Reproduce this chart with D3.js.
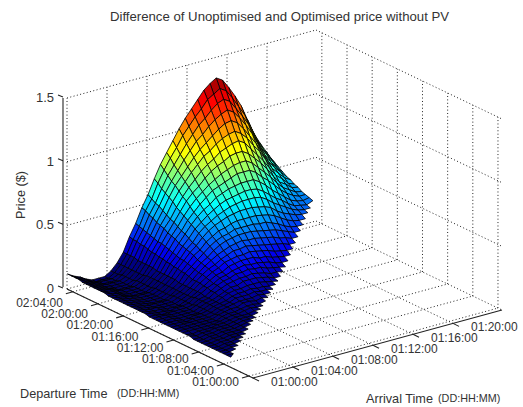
<!DOCTYPE html>
<html>

<head>
    <meta charset="utf-8">
    <title>Difference of Unoptimised and Optimised price without PV</title>
    <script src="https://cdn.jsdelivr.net/npm/d3@7"></script>
    <style>
        body { margin: 0; background: #fff; }
        text { font-family: "Liberation Sans", Arial, sans-serif; fill: #333; }
    </style>
</head>

<body>
    <svg id="chart"></svg>
</body>

<script>
    // hours after 01:00:00 for each axis tick
    let arrivalTicks = [0, 4, 8, 12, 16, 20];
    let arrivalLabels = ["01:00:00", "01:04:00", "01:08:00", "01:12:00", "01:16:00", "01:20:00"];
    let departureTicks = [0, 4, 8, 12, 16, 20, 24, 28];
    let departureLabels = ["01:00:00", "01:04:00", "01:08:00", "01:12:00", "01:16:00", "01:20:00", "02:00:00", "02:04:00"];
    let priceTicks = [0, 50, 100, 150];
    let priceLabels = ["0", "0.5", "1", "1.5"];

    // mesh positions, hours after 01:00:00
    let arrivalHours = [0, 0.62, 1.24, 1.86, 2.48, 3.1, 3.72, 4.34, 4.96, 5.58, 6.2, 6.82, 7.44, 8.06, 8.68, 9.3, 9.92,
        10.54, 11.16, 11.78, 12.4, 13.02, 13.64, 14.26, 14.88, 15.5, 16.12, 16.74, 17.36, 17.98, 18.6, 19.22, 19.84, 20.46];
    let departureHours = [2.9, 3.49, 4.08, 4.67, 5.26, 5.85, 6.44, 7.03, 7.62, 8.21, 8.8, 9.39, 9.98, 10.57, 11.16,
        11.75, 12.34, 12.93, 13.52, 14.11, 14.7, 15.29, 15.88, 16.47, 17.06, 17.65, 18.24, 18.83, 19.42, 20.01, 20.6,
        21.19, 21.78, 22.37, 22.96, 23.55, 24.14, 24.73, 25.32, 25.91, 26.5, 27.09, 27.68, 28.27, 28.86];

    // price difference in cents, one row per arrival time.
    // row i starts at departure i: nobody departs before arriving
    let priceCents = [
        [8,8,8,8,8,8,8,8,8,8,8,9,9,9,9,9,9,9,9,9,9,9,9,10,10,10,10,10,10,10,10,10,10,10,11,11,11,11,11,11,11,12,12,12,12],
        [8,8,8,8,8,8,8,8,8,8,8,8,9,9,9,9,9,9,9,9,9,9,9,9,9,9,9,9,9,9,9,9,9,9,9,9,9,9,9,9,9,9,9,9],
        [9,9,9,9,9,9,9,9,9,9,9,9,9,9,9,9,9,9,9,9,8,8,8,8,8,8,8,8,8,8,8,8,8,8,8,7,7,7,7,7,7,7,7],
        [9,9,9,9,9,9,9,9,9,9,9,9,9,9,8,8,8,8,8,8,8,8,8,7,7,7,7,7,7,7,6,6,6,6,6,5,5,5,5,4,4,4],
        [10,10,10,10,10,10,10,10,9,9,9,9,9,9,8,8,8,8,8,7,7,7,7,7,6,6,6,6,6,5,5,5,5,4,4,4,4,3,3,2,2],
        [10,10,10,10,10,10,10,10,9,9,9,9,9,9,8,8,8,8,8,7,7,7,7,6,6,6,6,6,5,5,5,5,4,4,4,4,3,3,2,2],
        [10,10,10,10,10,10,10,10,9,9,9,9,9,8,8,8,8,8,7,7,7,7,6,6,6,6,6,5,5,5,5,4,4,4,4,3,3,2,2],
        [11,11,11,11,11,11,11,11,11,10,10,10,10,10,10,9,9,9,9,9,9,8,8,8,8,8,7,7,7,7,7,6,6,6,6,5,5,5],
        [12,12,12,12,12,12,12,12,12,12,12,12,12,12,12,12,11,11,11,11,11,11,11,11,11,11,11,11,11,10,10,10,10,10,10,10,10],
        [12,12,12,12,12,12,13,13,13,13,13,13,13,13,14,14,14,14,14,14,14,15,15,15,15,15,15,16,16,16,16,16,17,17,17,17],
        [12,12,12,13,13,13,14,14,14,15,15,16,16,17,17,18,18,18,19,20,20,21,21,22,22,23,23,24,24,25,26,26,27,27,28],
        [13,13,14,14,15,15,16,16,17,17,18,19,19,20,21,22,22,23,24,25,26,26,27,28,29,30,31,31,32,33,34,35,36,37],
        [13,13,14,15,15,16,17,18,19,20,21,22,23,24,25,26,27,28,30,31,32,33,34,36,37,38,40,41,42,44,45,47,48],
        [13,13,14,15,16,17,18,19,21,22,23,24,26,27,29,30,32,33,35,36,38,40,41,43,45,46,48,50,52,53,55,57],
        [14,15,16,17,18,19,21,22,24,25,27,29,30,32,34,36,38,40,42,44,46,48,50,52,54,57,59,61,63,66,68],
        [14,15,16,17,19,21,22,24,26,28,30,32,34,37,39,41,44,46,48,51,53,56,59,61,64,67,69,72,75,78],
        [15,16,17,19,21,23,25,27,29,31,34,36,39,41,44,47,49,52,55,58,61,64,67,70,73,76,79,83,86],
        [15,16,18,20,22,24,26,29,31,34,37,40,42,45,49,52,55,58,62,65,68,72,76,79,83,86,90,94],
        [16,17,19,21,24,26,29,32,35,38,41,44,47,51,54,58,62,66,69,73,77,81,85,89,93,98,102],
        [16,17,19,22,25,27,31,34,37,41,44,48,52,56,60,64,68,72,77,81,86,90,95,99,104,109],
        [17,19,21,24,27,30,33,37,41,44,48,53,57,61,66,70,75,80,84,89,94,99,105,110,115],
        [18,20,22,25,29,32,36,40,44,48,53,58,62,67,72,77,82,88,93,98,104,109,115,121],
        [19,21,24,27,31,35,39,43,48,53,58,63,68,74,79,85,90,96,102,108,114,121,127],
        [21,23,26,30,34,38,43,47,52,58,63,68,74,80,86,92,98,105,111,118,124,131],
        [23,25,29,32,37,41,46,51,57,62,68,74,80,86,93,99,106,113,120,127,134],
        [25,27,31,35,39,44,49,54,59,65,71,77,83,90,96,103,110,117,124,131],
        [27,29,33,36,41,45,50,55,61,66,72,78,84,91,97,104,110,117,124],
        [29,31,34,38,42,47,51,56,62,67,73,78,84,90,97,103,109,116],
        [31,33,36,40,44,48,52,57,62,67,72,78,83,89,95,101,107],
        [33,35,38,41,44,48,52,56,60,65,70,74,79,84,90,95],
        [35,37,39,41,44,48,51,54,58,62,66,70,74,79,83],
        [37,38,40,42,45,48,51,54,57,60,63,67,70,74],
        [38,39,41,43,45,47,49,52,55,57,60,63,66],
        [41,42,43,44,46,47,49,50,52,54,56,58]
    ];

    let SVGWIDTH = 523,
        SVGHEIGHT = 407,
        near = { x: 253, y: 378 }; // floor corner under 01:00:00 / 01:00:00

    let svg = d3.select("#chart").attr("width", SVGWIDTH).attr("height", SVGHEIGHT);

    // oblique box axes: each data axis moves the point in both x and y
    let arrivalDomain = [0, 24.9],
        departureDomain = [-0.64, 28.93],
        priceDomain = [0, 150];
    let arrivalX = d3.scaleLinear().domain(arrivalDomain).range([0, 249]),
        arrivalY = d3.scaleLinear().domain(arrivalDomain).range([0, -68]),
        departureX = d3.scaleLinear().domain(departureDomain).range([0, -186]),
        departureY = d3.scaleLinear().domain(departureDomain).range([0, -89]),
        priceY = d3.scaleLinear().domain(priceDomain).range([0, -191]);

    function project(a, d, p) {
        return [near.x + arrivalX(a) + departureX(d), near.y + arrivalY(a) + departureY(d) + priceY(p)];
    }

    // matlab jet, the low end pushed darker like the picture
    let jet = d3.scaleLinear()
        .domain([0, 0.125, 0.375, 0.625, 0.875, 1])
        .range(["#000070", "#0000f0", "#00ffff", "#ffff00", "#ff0000", "#800000"]);
    let colorFrac = d3.scaleLinear().domain([11, 135]).range([0, 1]).clamp(true);

    let aMin = arrivalDomain[0], aMax = arrivalDomain[1],
        dMin = departureDomain[0], dMax = departureDomain[1],
        pMax = priceDomain[1];

    function seg(g, p0, p1) {
        return g.append("line")
            .attr("x1", p0[0]).attr("y1", p0[1])
            .attr("x2", p1[0]).attr("y2", p1[1]);
    }

    // dotted box grid
    let grid = svg.append("g")
        .attr("stroke", "#222").attr("stroke-width", 1).attr("stroke-dasharray", "1 2.4").attr("fill", "none");
    arrivalTicks.forEach(a => {
        seg(grid, project(a, dMin, 0), project(a, dMax, 0));
        seg(grid, project(a, dMax, 0), project(a, dMax, pMax));
    });
    departureTicks.forEach(d => {
        seg(grid, project(aMin, d, 0), project(aMax, d, 0));
        seg(grid, project(aMax, d, 0), project(aMax, d, pMax));
    });
    priceTicks.forEach(p => {
        seg(grid, project(aMin, dMax, p), project(aMax, dMax, p));
        seg(grid, project(aMax, dMax, p), project(aMax, dMin, p));
    });

    // surface cells, far ones first
    let cells = [];
    for (let i = 0; i < priceCents.length - 1; i++) {
        for (let j = i + 1; j < departureHours.length - 1; j++) {
            let v = [priceCents[i][j - i], priceCents[i + 1][j - i - 1], priceCents[i + 1][j - i], priceCents[i][j - i + 1]];
            cells.push({
                order: i + j,
                mean: d3.mean(v),
                pts: [
                    project(arrivalHours[i], departureHours[j], v[0]),
                    project(arrivalHours[i + 1], departureHours[j], v[1]),
                    project(arrivalHours[i + 1], departureHours[j + 1], v[2]),
                    project(arrivalHours[i], departureHours[j + 1], v[3])
                ]
            });
        }
    }
    // the small tip at the first arrival
    cells.push({
        order: 0,
        mean: 14,
        pts: [
            project(arrivalHours[0], departureHours[0], priceCents[0][0]),
            project(arrivalHours[1], departureHours[1], priceCents[1][0]),
            project(arrivalHours[0], departureHours[1], priceCents[0][1])
        ]
    });
    cells.sort((a, b) => b.order - a.order);
    let cellPath = d3.line().curve(d3.curveLinearClosed);
    svg.append("g").selectAll("path")
        .data(cells)
        .enter().append("path")
        .attr("d", d => cellPath(d.pts))
        .attr("fill", d => jet(colorFrac(d.mean)))
        .attr("stroke", "#000")
        .attr("stroke-width", 0.8)
        .attr("stroke-linejoin", "round");

    // axes
    let axes = svg.append("g").attr("stroke", "#222").attr("stroke-width", 1.1).attr("fill", "none");
    seg(axes, project(aMin, dMin, 0), project(aMin, dMax, 0));
    seg(axes, project(aMin, dMin, 0), project(aMax, dMin, 0));
    arrivalTicks.forEach((a, k) => {
        let p = project(a, dMin, 0);
        seg(axes, p, [p[0] + 6, p[1] + 3]);
        svg.append("text").attr("x", p[0] + 18).attr("y", p[1] + 8).attr("font-size", 12).text(arrivalLabels[k]);
    });
    // the labels here fall a little slower than the axis does
    let labelDrop = d3.scaleLinear().domain([0, 28]).range([10, 15]);
    departureTicks.forEach((d, k) => {
        let p = project(aMin, d, 0);
        seg(axes, p, [p[0] - 7, p[1] + 2]);
        svg.append("text").attr("x", p[0] - 10).attr("y", p[1] + labelDrop(d)).attr("text-anchor", "end").attr("font-size", 12).text(departureLabels[k]);
    });

    // price axis sits just left of the box corner
    let zLeft = project(aMin, dMax, 0);
    let zx = zLeft[0] - 4;
    seg(axes, [zx, zLeft[1] - 2], [zx, project(aMin, dMax, pMax)[1]]).attr("stroke", "#555").attr("stroke-width", 1.4);
    priceTicks.forEach((p, k) => {
        let y = project(aMin, dMax, p)[1] - 2;
        seg(axes, [zx, y + 1], [zx - 5, y - 1]);
        svg.append("text").attr("x", zx - 9).attr("y", y + 6).attr("text-anchor", "end").attr("font-size", 13).text(priceLabels[k]);
    });

    svg.append("text").attr("x", 279.5).attr("y", 21).attr("text-anchor", "middle").attr("font-size", 13.2).text("Difference of Unoptimised and Optimised price without PV");
    svg.append("text").attr("transform", "translate(25,195) rotate(-90)").attr("text-anchor", "middle").attr("font-size", 12.7).text("Price ($)");
    svg.append("text").attr("x", 20).attr("y", 398).attr("font-size", 12.7).text("Departure Time");
    svg.append("text").attr("x", 117).attr("y", 397).attr("font-size", 10.8).text("(DD:HH:MM)");
    svg.append("text").attr("x", 366).attr("y", 403).attr("font-size", 12.7).text("Arrival Time");
    svg.append("text").attr("x", 438).attr("y", 402).attr("font-size", 10.8).text("(DD:HH:MM)");
</script>

</html>
